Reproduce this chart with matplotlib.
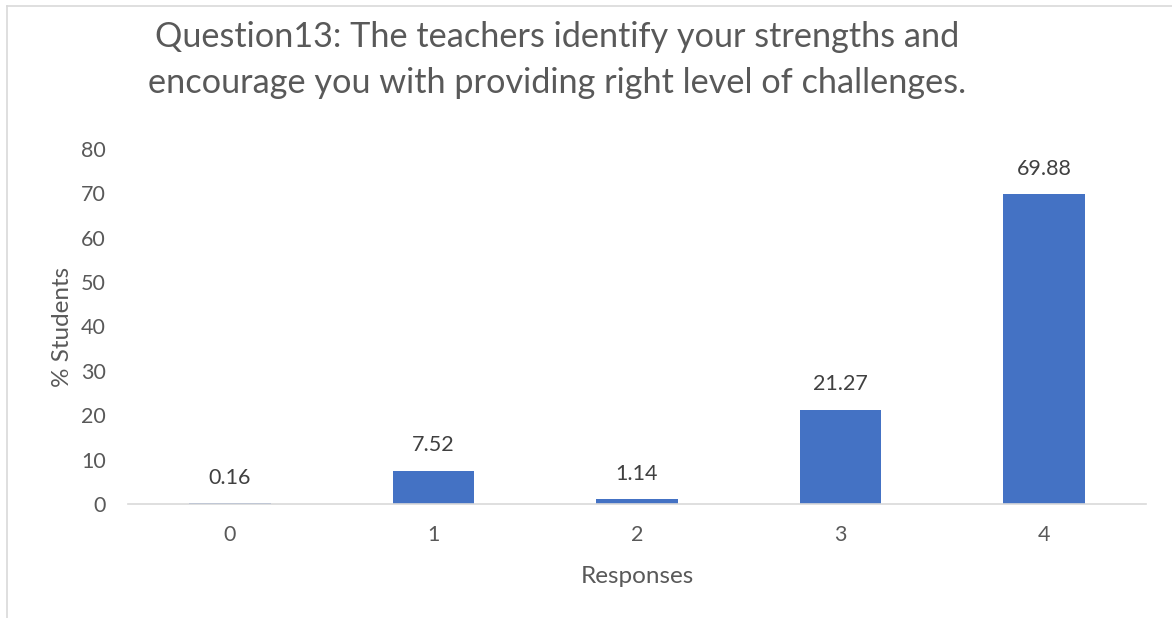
import matplotlib.pyplot as plt
from matplotlib.lines import Line2D

responses = ['0', '1', '2', '3', '4']
pct_students = [0.16, 7.52, 1.14, 21.27, 69.88]
value_labels = ['0.16', '7.52', '1.14', '21.27', '69.88']
y_ticks = [0, 10, 20, 30, 40, 50, 60, 70, 80]

title = ('Question13: The teachers identify your strengths and\n'
         'encourage you with providing right level of challenges.')

plt.rcParams['font.family'] = ['Lato', 'DejaVu Sans']
text_color = '#595959'

fig = plt.figure(figsize=(11.72, 6.18), dpi=100)
W, H = 1172, 618
ax = fig.add_axes([128 / W, 1 - 504 / H, (1146 - 128) / W, (504 - 149) / H])

x = range(len(responses))
ax.bar(x, pct_students, width=0.4, color='#4472C4')
for xi, v, lab in zip(x, pct_students, value_labels):
    ax.annotate(lab, (xi, v), xytext=(0, 11), textcoords='offset points',
                ha='center', va='bottom', fontsize=15.5, color='#404040')

ax.set_xlim(-0.5, 4.5)
ax.set_ylim(0, 80)
ax.set_yticks(y_ticks)
ax.set_xticks(list(x))
ax.set_xticklabels(responses)
ax.tick_params(axis='both', length=0, labelsize=15.5, labelcolor=text_color)
ax.tick_params(axis='y', pad=16)
ax.tick_params(axis='x', pad=15)
for s in ['top', 'right', 'left']:
    ax.spines[s].set_visible(False)
ax.spines['bottom'].set_color('#D9D9D9')
ax.spines['bottom'].set_linewidth(1.2)

ax.set_xlabel('Responses', fontsize=17.5, color=text_color, labelpad=15)
ax.set_ylabel('% Students', fontsize=17.5, color=text_color, labelpad=6)

fig.text(557 / W, 1 - 60 / H, title, ha='center', va='center',
         fontsize=24.7, color=text_color, linespacing=1.52)

# chart frame (left and top edges visible)
fig.add_artist(Line2D([7 / W, 7 / W], [0, 1 - 6 / H], transform=fig.transFigure,
                      color='#D9D9D9', lw=1.2))
fig.add_artist(Line2D([7 / W, 1], [1 - 6 / H, 1 - 6 / H], transform=fig.transFigure,
                      color='#D9D9D9', lw=1.2))

fig.savefig('out.png', dpi=100)
